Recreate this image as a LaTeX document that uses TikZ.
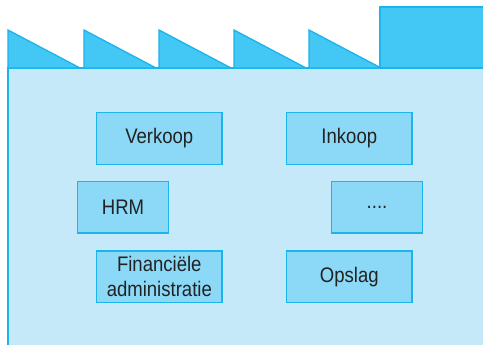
\documentclass[tikz,border=0pt]{standalone}
\usepackage{fontspec}
\setmainfont[FakeStretch=0.88]{Liberation Sans}
\definecolor{hal}{HTML}{C6E9F9}
\definecolor{dak}{HTML}{43C8F5}
\definecolor{rand}{HTML}{1BB4EC}
\definecolor{vak}{HTML}{8BD9F7}
\definecolor{tekst}{HTML}{222222}
\tikzset{
  afdeling/.style={draw=rand, fill=vak, line width=1pt, text=tekst,
    minimum width=94pt, minimum height=38.7pt, inner sep=1pt,
    align=center, font=\fontsize{15.8}{19}\selectfont},
  smal/.style={minimum width=68.5pt}
}
\begin{document}
\begin{tikzpicture}[x=0.75pt, y=-0.75pt]
	\clip (0,0) rectangle (483,344);
	\fill[white] (0,0) rectangle (483,344);
	
	% fabriekshal met zaagtanddak
	\draw[draw=rand, fill=hal, line width=1pt] (8,68) rectangle (500,360);
	\foreach \x in {8,84,159,234,309}
		\draw[draw=rand, fill=dak, line width=1pt] (\x,68) -- (\x,30) -- (\x+72,68) -- cycle;
	\draw[draw=rand, fill=dak, line width=1pt] (380,68) rectangle (500,7);
	
	% afdelingen
	\node[afdeling] (verkoop) at (159.3,138.5) {Verkoop};
	\node[afdeling] (inkoop) at (349.3,138.5) {Inkoop};
	\node[afdeling, smal] (hrm) at (123,207.2) {HRM};
	\node[afdeling, smal] (overig) at (377,207.2) {....};
	\node[afdeling] (financien) at (159.3,276.7) {Financiële\\administratie};
	\node[afdeling] (opslag) at (349.3,276.7) {Opslag};
\end{tikzpicture}
\end{document}
